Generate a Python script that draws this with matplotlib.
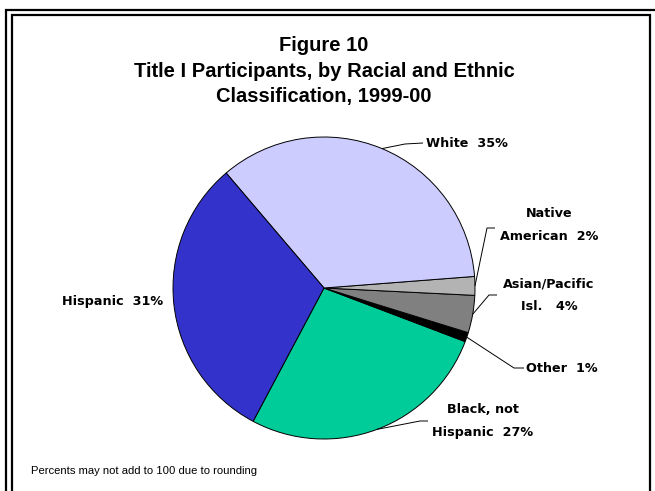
import numpy as np
import matplotlib
matplotlib.use("Agg")
import matplotlib.pyplot as plt

# ---- data ----
categories = ["Black, not Hispanic", "Other", "Asian/Pacific Isl.", "Native American", "White", "Hispanic"]
values = [27, 1, 4, 2, 35, 31]
colors = ["#00CC99", "#000000", "#808080", "#B3B3B3", "#CCCCFF", "#3333CC"]
label_texts = ["Black, not\nHispanic  27%", "Other  1%", "Asian/Pacific\nIsl.   4%",
               "Native\nAmerican  2%", "White  35%", "Hispanic  31%"]

W, H = 655, 491
def fy(y):
    return H - y

fig = plt.figure(figsize=(W / 100, H / 100), dpi=100)
ax = fig.add_axes([0, 0, 1, 1])

cx, cy, r = 324, fy(288), 151
wedges, _ = ax.pie(values, colors=colors, startangle=242, counterclock=True,
                   center=(cx, cy), radius=r, frame=True,
                   wedgeprops=dict(edgecolor="black", linewidth=0.7))
ax.set_xlim(0, W)
ax.set_ylim(0, H)
ax.set_aspect("equal")
ax.axis("off")

# label text positions (pixel, top-origin) and leader elbows
label_pos = [(483, 421), (562, 368), (549, 295), (549, 225), (467, 143), (113, 302)]
leader_pts = [
    [(420, 421), (428, 421)],
    [(514, 368), (524, 368)],
    [(489, 295), (497, 295)],
    [(487, 228), (495, 228)],
    [(405, 144), (423, 143)],
    None,
]

lbl_font = dict(family="DejaVu Sans", fontsize=9.2, fontweight="bold")
for w, txt, pos, pts in zip(wedges, label_texts, label_pos, leader_pts):
    ax.text(pos[0], fy(pos[1]), txt, ha="center", va="center",
            linespacing=1.95, **lbl_font)
    if pts is not None:
        mid = np.deg2rad((w.theta1 + w.theta2) / 2)
        sx, sy = cx + r * np.cos(mid), cy + r * np.sin(mid)
        xs = [sx] + [p[0] for p in pts]
        ys = [sy] + [fy(p[1]) for p in pts]
        ax.plot(xs, ys, color="black", lw=0.7, solid_capstyle="butt")

# title
ax.text(324, fy(71), "Figure 10\nTitle I Participants, by Racial and Ethnic\nClassification, 1999-00",
        ha="center", va="center", family="Liberation Sans", fontsize=14.5, fontweight="bold",
        linespacing=1.42)

# footnote
ax.text(31, fy(471), "Percents may not add to 100 due to rounding", ha="left", va="center",
        family="Liberation Sans", fontsize=8.1)

# frame lines
ax.plot([5.5, 5.5, W + 5], [-5, fy(9.5), fy(9.5)], color="black", lw=1.6, solid_joinstyle="miter")
ax.plot([11.5, 11.5, 649.5, 649.5], [-5, fy(15), fy(15), -5], color="black", lw=1.6,
        solid_joinstyle="miter")

fig.savefig("out.png", dpi=100)
